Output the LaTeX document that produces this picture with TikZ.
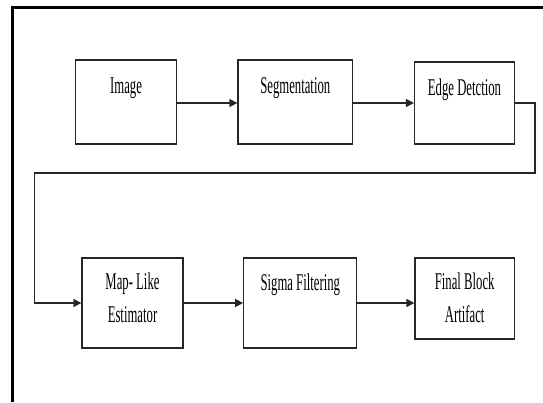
\documentclass[tikz,border=0pt]{standalone}
\usepackage{fontspec}
\setmainfont{Liberation Serif}[FakeStretch=0.53]
\usetikzlibrary{arrows.meta}
\begin{document}
\begin{tikzpicture}[x=1pt,y=-1pt,
  box/.style={draw=black!85,line width=1.3pt,rectangle,inner sep=0pt},
  lbl/.style={font=\fontsize{24pt}{33pt}\selectfont,inner sep=0pt,anchor=base,align=center},
  arr/.style={draw=black!85,line width=1.3pt,-{Triangle[length=8pt,width=8pt]}},
  frame/.style={draw=black,line width=3pt}]
\useasboundingbox (0,0) rectangle (543,402);
\fill[white] (0,0) rectangle (543,402);
% outer frame (left and top only)
\coordinate (fbl) at (12,402);
\coordinate (ftl) at (12,7);
\coordinate (ftr) at (543,7);
\draw[frame] (fbl) -- (ftl) -- (ftr);
% boxes
\node[box,minimum width=101.2pt,minimum height=84pt] (img) at (126.1,102) {};
\node[box,minimum width=114.6pt,minimum height=84pt] (seg) at (295.3,102) {};
\node[box,minimum width=99.8pt,minimum height=82pt] (edge) at (464.5,103) {};
\node[box,minimum width=101pt,minimum height=90pt] (map) at (132.5,303) {};
\node[box,minimum width=113pt,minimum height=90pt] (sig) at (300.3,303) {};
\node[box,minimum width=99.4pt,minimum height=81pt] (fin) at (464.7,298.5) {};
% labels
\node[lbl] (timg) at (126.1,93) {Image};
\node[lbl] (tseg) at (295.3,93) {Segmentation};
\node[lbl] (tedge) at (464.5,95) {Edge Detction};
\node[lbl] (tmap) at (132.5,322) {Map- Like\\Estimator};
\node[lbl] (tsig) at (300.3,290) {Sigma Filtering};
\node[lbl] (tfin) at (464.7,322) {Final Block\\Artifact};
% connectors
\draw[arr] (img.east |- 0,103) -- (seg.west |- 0,103);
\draw[arr] (seg.east |- 0,103) -- (edge.west |- 0,103);
\coordinate (c1) at (535,103);
\coordinate (c2) at (535,173);
\coordinate (c3) at (34.6,173);
\coordinate (c4) at (34.6,303);
\draw[arr] (edge.east |- c1) -- (c1) -- (c2) -- (c3) -- (c4) -- (map.west |- c4);
\draw[arr] (map.east) -- (sig.west);
\draw[arr] (sig.east) -- (fin.west |- sig.east);
\end{tikzpicture}
\end{document}
